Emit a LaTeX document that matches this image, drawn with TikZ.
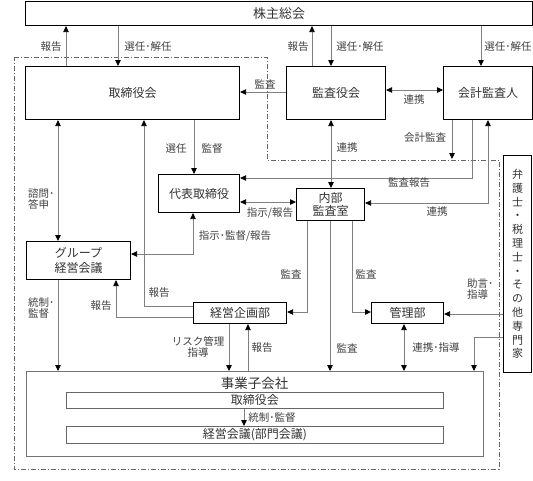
\documentclass[tikz,border=0pt]{standalone}
\usepackage{fontspec}
\setmainfont{Noto Sans CJK JP}
\usetikzlibrary{arrows.meta}
\begin{document}
\begin{tikzpicture}[x=1pt,y=-1pt,
  box/.style={draw=black, line width=1.1pt, inner sep=0pt, anchor=north west, font=\fontsize{12}{14}\selectfont, text=black!80},
  subbox/.style={draw=black!60, line width=0.9pt, inner sep=0pt, anchor=north west, font=\fontsize{12}{14}\selectfont, text=black!80},
  conn/.style={draw=black!50, line width=0.8pt},
  arr/.style={conn, -{Triangle[length=6pt,width=5.5pt,color=black]}},
  darr/.style={conn, {Triangle[length=6pt,width=5.5pt,color=black]}-{Triangle[length=6pt,width=5.5pt,color=black]}},
  lab/.style={font=\fontsize{10.5}{11.5}\selectfont, text=black!75, inner sep=0pt},
  boundary/.style={draw=black!60, line width=0.7pt, dash pattern=on 5pt off 2pt on 1pt off 2pt}
]
\useasboundingbox (0,0) rectangle (533,480);
\fill[white] (0,0) rectangle (533,480);

% boundary
\draw[boundary] (14,57) -- (267,57) -- (267,160) -- (499,160) -- (499,469) -- (14,469) -- cycle;

% boxes
\node[box, minimum width=507pt, minimum height=24pt, font=\fontsize{13}{15}\selectfont] (kabu) at (25,1) {株主総会};
\node[box, minimum width=214pt, minimum height=53pt] (tori) at (25,66) {取締役会};
\node[box, minimum width=99pt, minimum height=53pt] (kansa) at (286,66) {監査役会};
\node[box, minimum width=89pt, minimum height=53pt] (kaikei) at (443,66) {会計監査人};
\node[box, minimum width=81pt, minimum height=38pt] (daihyo) at (158,174) {代表取締役};
\node[box, minimum width=68pt, minimum height=32pt, align=center, font=\fontsize{12}{13}\selectfont] (naibu) at (296,188) {内部\\監査室};
\node[box, minimum width=104pt, minimum height=38pt, align=center, font=\fontsize{12}{15}\selectfont] (group) at (26,241) {グループ\\経営会議};
\node[box, minimum width=93pt, minimum height=21pt] (kikaku) at (193,302) {経営企画部};
\node[box, minimum width=72pt, minimum height=21pt] (kanri) at (371,302) {管理部};
\node[box, minimum width=28pt, minimum height=217pt, align=center, font=\fontsize{11}{13.8}\selectfont] (senmon) at (503,155) {弁\\護\\士\\・\\税\\理\\士\\・\\そ\\の\\他\\専\\門\\家};

\node[draw=black!55, line width=0.9pt, inner sep=0pt, anchor=north west, minimum width=457pt, minimum height=85pt] (jigyo) at (26,371) {};
\node[font=\fontsize{13.5}{15}\selectfont, text=black!80, inner sep=0pt] (jtitle) at (254.5,383) {事業子会社};
\node[subbox, minimum width=377pt, minimum height=16pt] (subtori) at (66,392) {取締役会};
\node[subbox, minimum width=377pt, minimum height=17pt] (subkaigi) at (66,426) {経営会議(部門会議)};
\coordinate (kaend) at (452,159);

% connectors
\draw[arr] (tori.north -| 66,0) -- (kabu.south -| 66,0);
\draw[arr] (kabu.south -| 118,0) -- (tori.north -| 118,0);
\draw[arr] (kansa.north -| 312,0) -- (kabu.south -| 312,0);
\draw[arr] (kabu.south -| 331,0) -- (kansa.north -| 331,0);
\draw[arr] (kabu.south -| 481,0) -- (kaikei.north -| 481,0);
\draw[darr] (kansa.east |- 0,90) -- (kaikei.west |- 0,90);
\draw[arr] (kansa.west |- 0,92) -- (tori.east |- 0,92);
\draw[arr] (tori.south -| 194,0) -- (daihyo.north -| 194,0);
\draw[darr] (tori.south -| 58,0) -- (group.north -| 58,0);
\draw[arr] (kikaku.west |- 0,306) -| (tori.south -| 144,0);
\draw[arr] (kikaku.west |- 0,317) -| (group.south -| 116,0);
\draw[darr] (kansa.south -| 331,0) -- (naibu.north -| 331,0);
\draw[arr] (kaikei.south -| 472,0) |- (daihyo.east |- 0,178);
\draw[arr] (kaikei.south -| 452,0) -- (kaend);
\draw[darr] (naibu.east |- 0,203) -| (kaikei.south -| 488,0);
\draw[darr] (daihyo.east |- 0,202) -- (naibu.west |- 0,202);
\draw[darr] (daihyo.south -| 193,0) |- (group.east |- 0,254);
\draw[arr] (group.south -| 58,0) -- (jigyo.north -| 58,0);
\draw[arr] (naibu.south -| 307,0) |- (kikaku.east |- 0,312);
\draw[arr] (naibu.south -| 352,0) |- (kanri.west |- 0,312);
\draw[arr] (naibu.south -| 330,0) -- (jigyo.north -| 330,0);
\draw[darr] (kanri.south -| 404,0) -- (jigyo.north -| 404,0);
\draw[arr] (senmon.west |- 0,314) -- (kanri.east |- 0,314);
\draw[arr] (senmon.west |- 0,337) -| (jigyo.north -| 474,0);
\draw[arr] (kikaku.south -| 229,0) -- (jigyo.north -| 229,0);
\draw[arr] (jigyo.north -| 248,0) -- (kikaku.south -| 248,0);
\draw[arr] (subtori.south -| 244,0) -- (subkaigi.north -| 244,0);

% labels
\node[lab] (l1) at (51,47) {報告};
\node[lab] (l2) at (148,47) {選任･解任};
\node[lab] (l3) at (298,47) {報告};
\node[lab] (l4) at (360,47) {選任･解任};
\node[lab] (l5) at (508,47) {選任･解任};
\node[lab] (l6) at (414,100) {連携};
\node[lab] (l7) at (265,84) {監査};
\node[lab] (l8) at (176,149) {選任};
\node[lab] (l9) at (212,149) {監督};
\node[lab] (l10) at (425,138) {会計監査};
\node[lab] (l11) at (347,148) {連携};
\node[lab, anchor=west, align=left] (l12) at (28,199) {諮問･\\答申};
\node[lab] (l13) at (409,183) {監査報告};
\node[lab] (l14) at (270,213) {指示/報告};
\node[lab] (l15) at (437,212) {連携};
\node[lab] (l16) at (235,236) {指示･監督/報告};
\node[lab] (l17) at (291,274) {監査};
\node[lab] (l18) at (366,274) {監査};
\node[lab, anchor=west, align=left] (l19) at (467,289) {助言･\\指導};
\node[lab] (l20) at (159,293) {報告};
\node[lab] (l21) at (101,306) {報告};
\node[lab, anchor=west, align=left] (l22) at (28,308) {統制･\\監督};
\node[lab, align=center] (l23) at (198,347) {リスク管理\\指導};
\node[lab] (l24) at (262,348) {報告};
\node[lab] (l25) at (347,348) {監査};
\node[lab] (l26) at (436,348) {連携･指導};
\node[lab] (l27) at (272,418) {統制･監督};
\end{tikzpicture}
\end{document}
